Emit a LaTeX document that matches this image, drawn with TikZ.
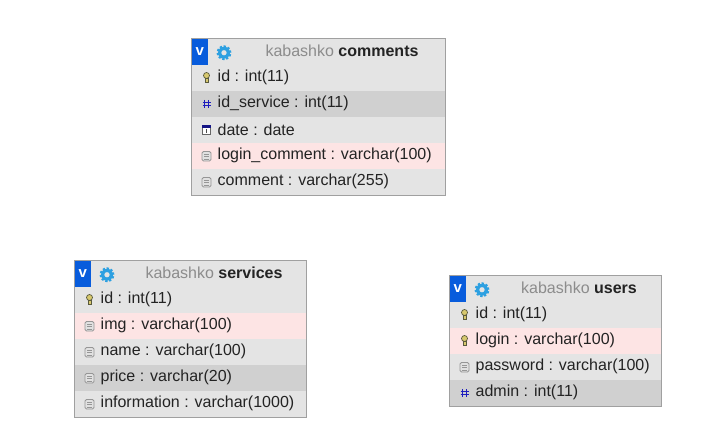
\documentclass[tikz,border=0pt]{standalone}
\usepackage{fontspec}
\setmainfont{Liberation Sans}
\usetikzlibrary{calc}
\definecolor{row_plain}{RGB}{228,228,228}
\definecolor{row_pink}{RGB}{253,228,228}
\definecolor{row_dark}{RGB}{208,208,208}
\definecolor{edge_gray}{RGB}{160,160,160}
\definecolor{text_dark}{RGB}{35,35,35}
\definecolor{text_gray}{RGB}{140,140,140}
\definecolor{head_blue}{RGB}{8,92,220}
\definecolor{gear_blue}{RGB}{45,160,225}
\definecolor{hash_blue}{RGB}{30,30,190}
\definecolor{key_yellow}{RGB}{215,200,110}
\definecolor{key_dark}{RGB}{90,90,60}
\definecolor{icon_gray}{RGB}{150,150,150}
\definecolor{icon_light}{RGB}{225,225,225}

% one table row: name, node above, width, fill, icon, text
\newcommand{\dbrow}[6]{
    \node[rowbox,minimum width=#3pt,fill=#4] (#1) at (#2.south west) {};
    \pic at ([xshift=15pt]#1.west) {#5};
    \node[rowtext] (#1_text) at ([xshift=26pt,yshift=0.5pt]#1.west) {#6};
}
% table head: prefix, top left corner, width, table name
\newcommand{\dbhead}[4]{
    \node[headbox,minimum width=#3pt] (#1_head) at (#2) {};
    \node[headv] (#1_v) at (#1_head.north west) {v};
    \pic at ([xshift=32.5pt,yshift=-1pt]#1_head.west) {gear_icon};
    \node[headtext] (#1_title) at ([xshift=23.5pt,yshift=0.5pt]#1_head.center)
        {\textcolor{text_gray}{kabashko} \textbf{#4}};
}

\begin{document}
\begin{tikzpicture}[x=1pt,y=-1pt]
    \tikzstyle{rowbox}=[anchor=north west,minimum height=26pt,inner sep=0pt,outer sep=0pt]
    \tikzstyle{headbox}=[style=rowbox,minimum height=26.5pt,fill=row_plain]
    \tikzstyle{headv}=[anchor=north west,minimum width=16pt,minimum height=26.5pt,inner sep=0pt,
        fill=head_blue,text=white,font=\fontsize{15}{15}\selectfont\bfseries]
    \tikzstyle{rowtext}=[anchor=west,inner sep=0pt,text=text_dark,font=\fontsize{16}{18}\selectfont]
    \tikzstyle{headtext}=[style=rowtext,anchor=center]
    \tikzstyle{frame}=[draw=edge_gray,line width=0.9pt]
    \tikzset{
      key_icon/.pic={
        \fill[key_yellow,draw=key_dark,line width=0.7pt] (0,-2.5) circle (3pt);
        \fill[key_yellow,draw=key_dark,line width=0.7pt] (-1.5,0) rectangle (1.5,4.5);
      },
      hash_icon/.pic={
        \draw[hash_blue,line width=1.2pt] (-1.8,-4) -- (-1.8,4) (1.8,-4) -- (1.8,4)
            (-4,-1.6) -- (4,-1.6) (-4,1.8) -- (4,1.8);
      },
      date_icon/.pic={
        \draw[black!60,fill=white,line width=0.8pt] (-4,-4) rectangle (4,4.5);
        \fill[hash_blue!70!black] (-4.4,-4.5) rectangle (4.4,-1.8);
        \fill[black!70] (-0.8,-0.5) rectangle (0.8,3);
      },
      text_icon/.pic={
        \draw[icon_gray,fill=icon_light,rounded corners=1.5pt,line width=0.9pt] (-4.5,-4.5) rectangle (4.5,5);
        \draw[icon_gray,line width=0.8pt] (-2.5,-2) -- (2.5,-2) (-2.5,0.5) -- (2.5,0.5) (-2.5,3) -- (2.5,3);
      },
      gear_icon/.pic={
        \draw[gear_blue,line width=2.4pt,dash pattern=on 2.2pt off 1.7pt] (0,0) circle (6.2pt);
        \fill[even odd rule,gear_blue] (0,0) circle (6pt) (0,0) circle (2.8pt);
      }
    }

    \useasboundingbox (0,0) rectangle (706,446);

    % comments
    \dbhead{c}{191.5,38.5}{254}{comments}
    \dbrow{c_id}{c_head}{254}{row_plain}{key_icon}{id : int(11)}
    \dbrow{c_service}{c_id}{254}{row_dark}{hash_icon}{id\_service : int(11)}
    \dbrow{c_date}{c_service}{254}{row_plain}{date_icon}{date : date}
    \dbrow{c_login}{c_date}{254}{row_pink}{text_icon}{login\_comment : varchar(100)}
    \dbrow{c_comment}{c_login}{254}{row_plain}{text_icon}{comment : varchar(255)}
    \draw[frame] (c_head.north west) rectangle (c_comment.south east);

    % services
    \dbhead{s}{74.5,260.5}{232}{services}
    \dbrow{s_id}{s_head}{232}{row_plain}{key_icon}{id : int(11)}
    \dbrow{s_img}{s_id}{232}{row_pink}{text_icon}{img : varchar(100)}
    \dbrow{s_name}{s_img}{232}{row_plain}{text_icon}{name : varchar(100)}
    \dbrow{s_price}{s_name}{232}{row_dark}{text_icon}{price : varchar(20)}
    \dbrow{s_info}{s_price}{232}{row_plain}{text_icon}{information : varchar(1000)}
    \draw[frame] (s_head.north west) rectangle (s_info.south east);

    % users
    \dbhead{u}{449.5,275.5}{212}{users}
    \dbrow{u_id}{u_head}{212}{row_plain}{key_icon}{id : int(11)}
    \dbrow{u_login}{u_id}{212}{row_pink}{key_icon}{login : varchar(100)}
    \dbrow{u_password}{u_login}{212}{row_plain}{text_icon}{password : varchar(100)}
    \dbrow{u_admin}{u_password}{212}{row_dark}{hash_icon}{admin : int(11)}
    \draw[frame] (u_head.north west) rectangle (u_admin.south east);
\end{tikzpicture}
\end{document}
